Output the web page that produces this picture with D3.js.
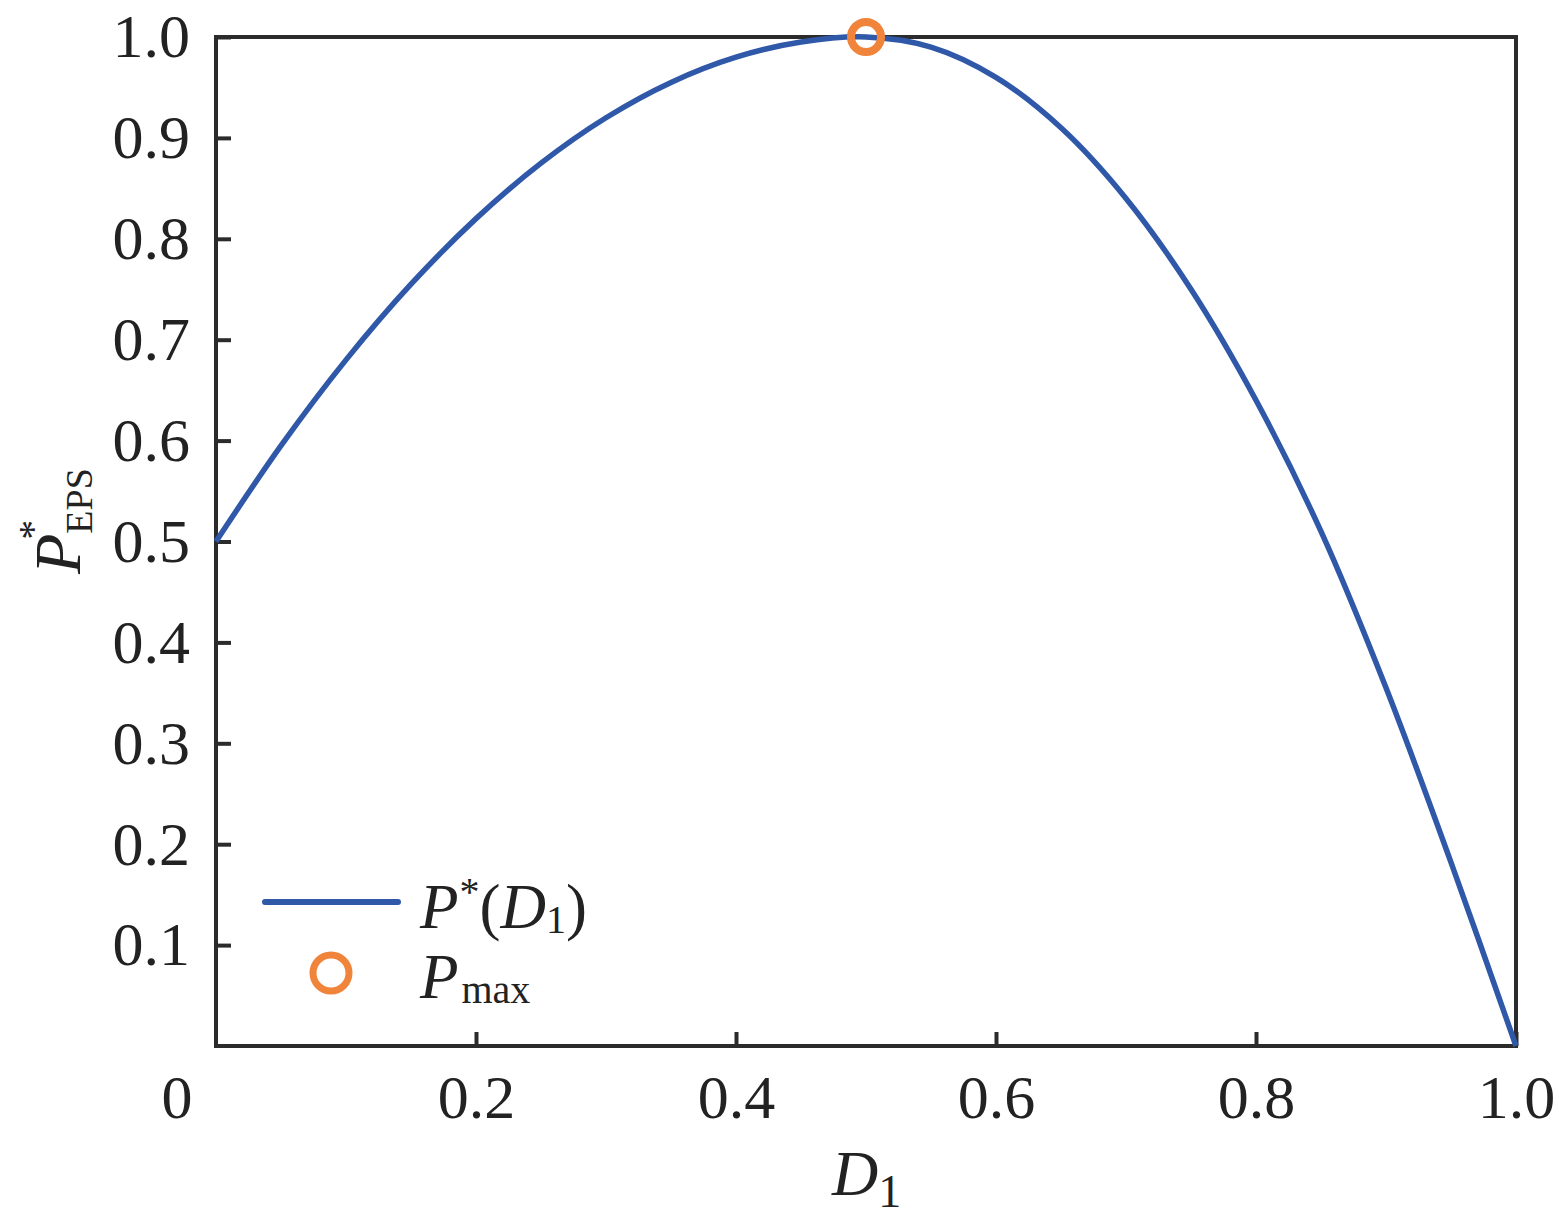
<!DOCTYPE html>
<html>
<head>
<meta charset="utf-8">
<script src="https://cdn.jsdelivr.net/npm/d3@7"></script>
<style>
  html, body { margin: 0; padding: 0; background: #ffffff; }
  svg { display: block; }
  text { font-family: "Liberation Serif", "Times New Roman", serif; fill: #222222; }
</style>
</head>
<body>
<script>
// ---- data ----
const dValues = [0, 0.05, 0.10, 0.15, 0.20, 0.25, 0.30, 0.35, 0.40, 0.45, 0.50,
                 0.55, 0.60, 0.65, 0.70, 0.75, 0.80, 0.85, 0.90, 0.95, 1.00];
const pValues = [0.500, 0.595, 0.680, 0.755, 0.820, 0.875, 0.920, 0.955, 0.980, 0.995, 1.000,
                 0.990, 0.960, 0.910, 0.840, 0.750, 0.640, 0.510, 0.355, 0.182, 0.000];
const maxD = [0.5];
const maxP = [1.0];
const yTicks = [0.1, 0.2, 0.3, 0.4, 0.5, 0.6, 0.7, 0.8, 0.9, 1.0];
const xTicks = [0.2, 0.4, 0.6, 0.8, 1.0];
const xOriginLabel = ["0"];

// ---- layout ----
const W = 1559, H = 1230;
const mLeft = 216, mRight = 1516, mTop = 37, mBottom = 1046;
const blue = "#3058a8", orange = "#f0843a", axisCol = "#2b2b2b";

const svg = d3.select("body").append("svg").attr("width", W).attr("height", H);

const x = d3.scaleLinear().domain([0, 1]).range([mLeft, mRight]);
const y = d3.scaleLinear().domain([0, 1]).range([mBottom, mTop]);

// y axis
const yAxis = svg.append("g").attr("transform", `translate(${mLeft},0)`)
  .call(d3.axisLeft(y).tickValues(yTicks).tickFormat(d3.format(".1f"))
        .tickSizeInner(-15).tickSizeOuter(0).tickPadding(26));
yAxis.select(".domain").remove();
yAxis.selectAll(".tick line").attr("stroke", axisCol).attr("stroke-width", 4);
yAxis.selectAll(".tick text").attr("font-size", 62).attr("fill", "#222")
  .style("font-family", '"Liberation Serif", serif');

// x axis
const xAxis = svg.append("g").attr("transform", `translate(0,${mBottom})`)
  .call(d3.axisBottom(x).tickValues(xTicks).tickFormat(d3.format(".1f"))
        .tickSizeInner(-14).tickSizeOuter(0));
xAxis.select(".domain").remove();
xAxis.selectAll(".tick line").attr("stroke", axisCol).attr("stroke-width", 4);
xAxis.selectAll(".tick text").attr("font-size", 62).attr("fill", "#222")
  .attr("y", 72).attr("dy", null)
  .style("font-family", '"Liberation Serif", serif');

svg.selectAll("text.origin").data(xOriginLabel).enter().append("text")
  .attr("class", "origin")
  .attr("x", 177).attr("y", mBottom + 72)
  .attr("text-anchor", "middle").attr("font-size", 62)
  .text(d => d);

// frame
svg.append("rect")
  .attr("x", mLeft).attr("y", mTop)
  .attr("width", mRight - mLeft).attr("height", mBottom - mTop)
  .attr("fill", "none").attr("stroke", axisCol).attr("stroke-width", 4);

// curve
const pts = dValues.map((d, i) => [d, pValues[i]]);
const line = d3.line().x(d => x(d[0])).y(d => y(d[1])).curve(d3.curveCatmullRom.alpha(0.5));
svg.append("path").datum(pts)
  .attr("d", line)
  .attr("fill", "none").attr("stroke", blue).attr("stroke-width", 5.5)
  .attr("stroke-linejoin", "round");

// max marker
svg.selectAll("circle.max").data(maxD.map((d, i) => [d, maxP[i]])).enter().append("circle")
  .attr("class", "max")
  .attr("cx", d => x(d[0])).attr("cy", d => y(d[1]))
  .attr("r", 15).attr("fill", "none")
  .attr("stroke", orange).attr("stroke-width", 8);

// legend
const leg = svg.append("g");
leg.append("line").attr("x1", 265).attr("x2", 398).attr("y1", 902).attr("y2", 902)
  .attr("stroke", blue).attr("stroke-width", 6).attr("stroke-linecap", "round");
const t1 = leg.append("text").attr("x", 420).attr("y", 928).attr("font-size", 63);
t1.append("tspan").attr("font-style", "italic").text("P");
t1.append("tspan").attr("font-size", 40).attr("dy", -23).attr("dx", 1).text("*");
t1.append("tspan").attr("dy", 23).text("(");
t1.append("tspan").attr("font-style", "italic").text("D");
t1.append("tspan").attr("font-size", 40).attr("dy", 5).text("1");
t1.append("tspan").attr("dy", -5).text(")");

leg.append("circle").attr("cx", 331).attr("cy", 973).attr("r", 18)
  .attr("fill", "none").attr("stroke", orange).attr("stroke-width", 7);
const t2 = leg.append("text").attr("x", 420).attr("y", 998).attr("font-size", 63);
t2.append("tspan").attr("font-style", "italic").text("P");
t2.append("tspan").attr("font-size", 40).attr("dy", 5).attr("dx", 3).text("max");

// x axis title
const xt = svg.append("text").attr("x", 832).attr("y", 1195).attr("font-size", 64);
xt.append("tspan").attr("font-style", "italic").text("D");
xt.append("tspan").attr("font-size", 46).attr("dy", 12).text("1");

// y axis title
const yt = svg.append("text").attr("transform", "translate(80,574) rotate(-90)")
  .attr("font-size", 66);
yt.append("tspan").attr("font-style", "italic").text("P");
yt.append("tspan").attr("font-size", 40).attr("dy", -34).attr("dx", -6).text("*");
yt.append("tspan").attr("font-size", 38).attr("dy", 46).attr("dx", -14).text("EPS");
</script>
</body>
</html>
